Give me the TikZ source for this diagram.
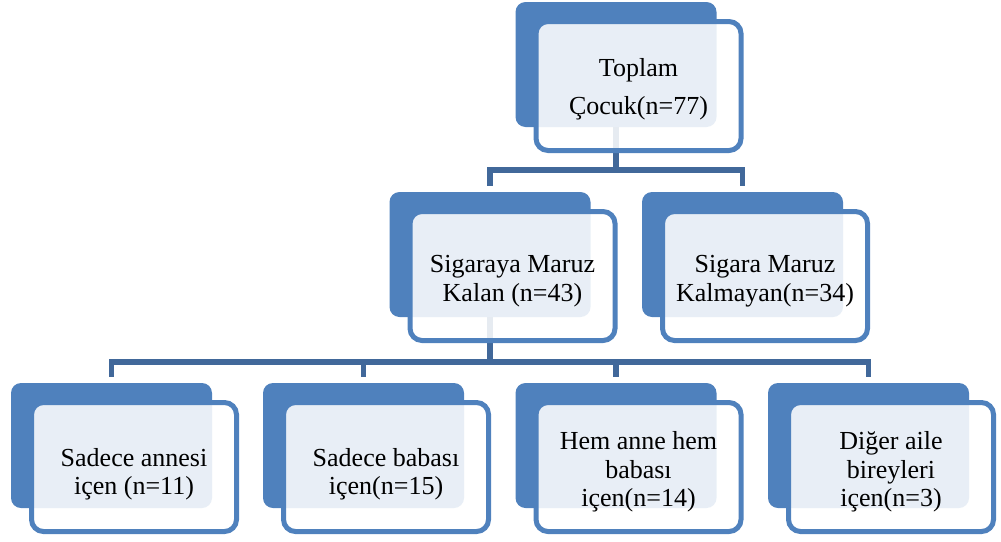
\documentclass[tikz,border=0pt]{standalone}
\usepackage{fontspec}
\setmainfont{Liberation Serif}

\definecolor{boxblue}{HTML}{4F81BD}
\definecolor{lineblue}{HTML}{41689A}

\begin{document}
\begin{tikzpicture}[x=1pt,y=-1pt]

      \useasboundingbox (0,0) rectangle (1001,541);

      % back boxes
      \begin{scope}[every node/.style={rectangle,rounded corners=10pt,fill=boxblue,minimum width=201pt,minimum height=125pt,inner sep=0pt}]
        \node (t)  at (616,64.5)    {};
        \node (m1) at (490,254.5)   {};
        \node (m2) at (742.5,254.5) {};
        \node (b1) at (111.5,445.5) {};
        \node (b2) at (363.5,445.5) {};
        \node (b3) at (616,445.5)   {};
        \node (b4) at (868.5,445.5) {};
      \end{scope}

      \coordinate (bar1) at (0,170);
      \coordinate (bar2) at (0,362);

      % connectors
      \begin{scope}[every path/.style={draw=lineblue,line width=5.5pt,shorten >=6pt}]
        \path (t.south)  |- (bar1 -| m1.north) -- (m1.north);
        \path (t.south)  |- (bar1 -| m2.north) -- (m2.north);
        \path (m1.south) |- (bar2 -| b1.north) -- (b1.north);
        \path (m1.south) |- (bar2 -| b2.north) -- (b2.north);
        \path (m1.south) |- (bar2 -| b3.north) -- (b3.north);
        \path (m1.south) |- (bar2 -| b4.north) -- (b4.north);
      \end{scope}

      % front boxes
      \begin{scope}[every node/.style={rectangle,rounded corners=12pt,draw=boxblue,line width=5pt,fill=white,fill opacity=0.87,minimum width=205pt,minimum height=129pt}]
        \node (tf)  at ([shift={(22.5,21.5)}]t)  {};
        \node (m1f) at ([shift={(22.5,21.5)}]m1) {};
        \node (m2f) at ([shift={(22.5,21.5)}]m2) {};
        \node (b1f) at ([shift={(22.5,21.5)}]b1) {};
        \node (b2f) at ([shift={(22.5,21.5)}]b2) {};
        \node (b3f) at ([shift={(22.5,21.5)}]b3) {};
        \node (b4f) at ([shift={(22.5,21.5)}]b4) {};
      \end{scope}

      % labels
      \begin{scope}[every node/.style={align=center,inner sep=0pt,font=\fontsize{26}{28.5}\selectfont}]
        \node (tl)  at ([yshift=-3pt]tf)  {Toplam\\[9.5pt]Çocuk(n=77)};
        \node (m1l) at ([yshift=-5pt]m1f) {Sigaraya Maruz\\Kalan (n=43)};
        \node (m2l) at ([yshift=-5pt]m2f) {Sigara Maruz\\Kalmayan(n=34)};
        \node (b1l) at ([yshift=-7pt]b1f) {Sadece annesi\\içen (n=11)};
        \node (b2l) at ([yshift=-7pt]b2f) {Sadece babası\\içen(n=15)};
        \node (b3l) at ([yshift=-5pt]b3f) {Hem anne hem\\babası\\içen(n=14)};
        \node (b4l) at ([yshift=-5pt]b4f) {Diğer aile\\bireyleri\\içen(n=3)};
      \end{scope}

    \end{tikzpicture}
\end{document}
